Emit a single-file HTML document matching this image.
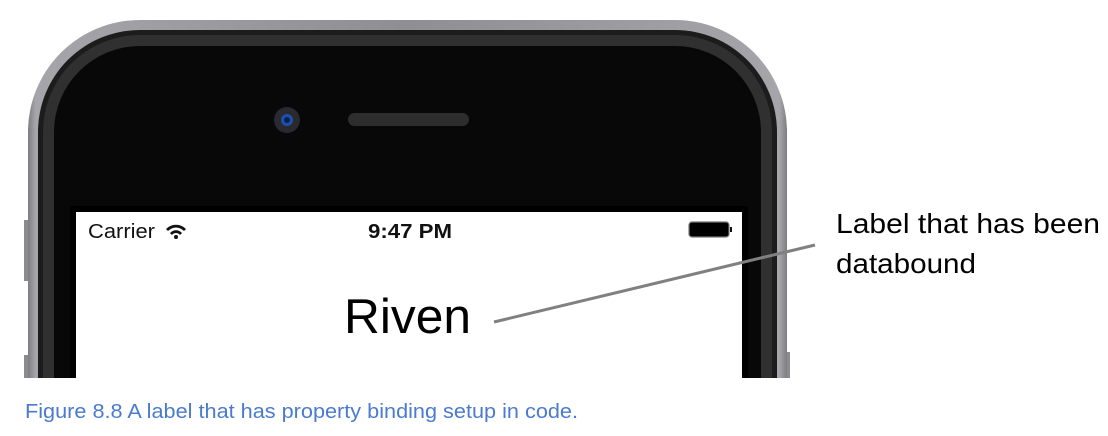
<!DOCTYPE html>
<html><head><style>
html,body{margin:0;padding:0;background:#fff;width:1108px;height:436px;overflow:hidden}
svg{display:block}
</style></head><body>
<svg width="1108" height="436" viewBox="0 0 1108 436" xmlns="http://www.w3.org/2000/svg">
<defs>
<linearGradient id="sil" x1="0" y1="0" x2="1" y2="0">
<stop offset="0" stop-color="#7d7d82"/><stop offset="0.01" stop-color="#a5a5aa"/><stop offset="0.5" stop-color="#8e8e93"/><stop offset="0.99" stop-color="#a5a5aa"/><stop offset="1" stop-color="#7d7d82"/>
</linearGradient>
<clipPath id="c"><rect x="0" y="0" width="1108" height="378"/></clipPath>
</defs>
<g clip-path="url(#c)">
<rect x="24" y="220" width="6" height="61" fill="#8a8a8f"/>
<rect x="24" y="355" width="6" height="30" fill="#8a8a8f"/>
<rect x="784" y="352" width="6" height="30" fill="#8a8a8f"/>
<path d="M28 430 V132 A112 112 0 0 1 140 20 H675 A112 112 0 0 1 787 132 V430 Z" fill="url(#sil)"/>
<path d="M38 430 V132 A102 102 0 0 1 140 30 H675 A102 102 0 0 1 777 132 V430 Z" fill="#1c1c1c"/>
<path d="M43 430 V132 A97 97 0 0 1 140 35 H675 A97 97 0 0 1 772 132 V430 Z" fill="#303030"/>
<path d="M54 430 V132 A86 86 0 0 1 140 46 H675 A86 86 0 0 1 761 132 V430 Z" fill="#080808"/>
<rect x="70" y="206" width="678" height="200" fill="#000"/>
<rect x="76" y="212" width="666" height="200" fill="#fff"/>
</g>
<circle cx="287" cy="120" r="13" fill="#2a2a2e"/>
<circle cx="287" cy="120" r="6" fill="#1d4fb0"/>
<circle cx="287" cy="120" r="3" fill="#0c2050"/>
<rect x="348" y="113" width="121" height="13" rx="6.5" fill="#2d2d2d"/>
<text x="88" y="238" font-family="Liberation Sans, sans-serif" font-size="20" fill="#111" textLength="67" lengthAdjust="spacingAndGlyphs">Carrier</text>
<g fill="#111"><path d="M166 229 a14 14 0 0 1 20 0 l-2 2 a11 11 0 0 0 -16 0z"/><path d="M170 233 a8 8 0 0 1 12 0 l-2 2 a5 5 0 0 0 -8 0z"/><circle cx="176" cy="237" r="2"/></g>
<text x="368" y="238" font-family="Liberation Sans, sans-serif" font-size="20" font-weight="bold" fill="#111" textLength="84" lengthAdjust="spacingAndGlyphs">9:47 PM</text>
<rect x="689" y="222" width="40" height="15" rx="3" fill="#000" stroke="#777" stroke-width="1.2"/>
<rect x="730" y="227" width="2" height="5" fill="#111"/>
<text x="344" y="333" font-family="Liberation Sans, sans-serif" font-size="49" fill="#000" textLength="127" lengthAdjust="spacingAndGlyphs">Riven</text>
<line x1="494" y1="322" x2="815" y2="245" stroke="#808080" stroke-width="3"/>
<text x="836" y="233" font-family="Liberation Sans, sans-serif" font-size="28" fill="#000" textLength="264" lengthAdjust="spacingAndGlyphs">Label that has been</text>
<text x="836" y="273" font-family="Liberation Sans, sans-serif" font-size="28" fill="#000" textLength="140" lengthAdjust="spacingAndGlyphs">databound</text>
<text x="25" y="418" font-family="Liberation Sans, sans-serif" font-size="20" fill="#4a7bd0" textLength="553" lengthAdjust="spacingAndGlyphs">Figure 8.8 A label that has property binding setup in code.</text>
</svg>
</body></html>
